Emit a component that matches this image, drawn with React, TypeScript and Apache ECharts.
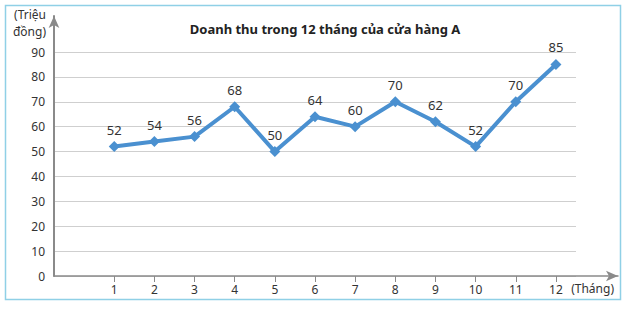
import React, { useEffect, useRef } from "react";
import * as echarts from "echarts";

const months = ["", "1", "2", "3", "4", "5", "6", "7", "8", "9", "10", "11", "12"];
const revenue = [null, 52, 54, 56, 68, 50, 64, 60, 70, 62, 52, 70, 85];
const yTicks = { min: 0, max: 90, interval: 10 };
const title = "Doanh thu trong 12 tháng của cửa hàng A";
const yName = "(Triệu\nđồng)";
const xName = "(Tháng)";

const FONT = "'Noto Sans', sans-serif";
const AXIS_COLOR = "#8a8a8a";
const LINE_COLOR = "#4a90d0";

export default function App() {
  const ref = useRef<HTMLDivElement>(null);
  useEffect(() => {
    const chart = echarts.init(ref.current!, null, { renderer: "svg" });
    chart.setOption({
      animation: false,
      backgroundColor: "#ffffff",
      textStyle: { fontFamily: FONT },
      title: {
        text: title,
        left: 320,
        top: 17,
        textAlign: "center",
        textStyle: { fontSize: 13, fontWeight: "bold", color: "#222", fontFamily: FONT },
      },
      grid: [
        { left: 54, right: 54, top: 52, bottom: 33 },
        { left: 54, right: 12, top: 16, bottom: 33 },
      ],
      xAxis: [
        {
          type: "category",
          gridIndex: 0,
          data: months,
          boundaryGap: true,
          axisLine: { show: false },
          axisTick: {
            show: true,
            alignWithLabel: true,
            interval: (i: number) => i > 0,
            length: 6,
            inside: false,
            lineStyle: { color: AXIS_COLOR, width: 1 },
          },
          axisLabel: { color: "#333", fontSize: 12, margin: 7, fontFamily: FONT, interval: 0 },
          splitLine: { show: false },
        },
        {
          type: "value",
          gridIndex: 1,
          min: 0,
          max: 1,
          axisLine: {
            show: true,
            onZero: false,
            symbol: ["none", "arrow"],
            symbolSize: [8, 12],
            lineStyle: { color: AXIS_COLOR, width: 1.5 },
          },
          axisTick: { show: false },
          axisLabel: { show: false },
          splitLine: { show: false },
          name: xName,
          nameLocation: "end",
          nameGap: 0,
          nameTextStyle: {
            color: "#333",
            fontSize: 12,
            fontFamily: FONT,
            align: "right",
            verticalAlign: "top",
            padding: [6, 4, 0, 0],
          },
        },
      ],
      yAxis: [
        {
          type: "value",
          gridIndex: 0,
          min: yTicks.min,
          max: yTicks.max,
          interval: yTicks.interval,
          axisLine: { show: false },
          axisTick: { show: false },
          axisLabel: { color: "#333", fontSize: 12, margin: 9, fontFamily: FONT },
          splitLine: { show: true, lineStyle: { color: "#cfcfcf", width: 1 } },
        },
        {
          type: "value",
          gridIndex: 1,
          min: 0,
          max: 1,
          axisLine: {
            show: true,
            onZero: false,
            symbol: ["none", "arrow"],
            symbolSize: [8, 12],
            lineStyle: { color: AXIS_COLOR, width: 2 },
          },
          axisTick: { show: false },
          axisLabel: { show: false },
          splitLine: { show: false },
          name: yName,
          nameLocation: "end",
          nameGap: -24,
          nameTextStyle: {
            color: "#333",
            fontSize: 12,
            fontFamily: FONT,
            align: "right",
            verticalAlign: "bottom",
            lineHeight: 17,
            padding: [0, 8, 0, 0],
          },
        },
      ],
      series: [
        {
          type: "line",
          xAxisIndex: 0,
          yAxisIndex: 0,
          data: revenue,
          symbol: "diamond",
          symbolSize: 11,
          showSymbol: true,
          lineStyle: { color: LINE_COLOR, width: 4 },
          itemStyle: { color: LINE_COLOR },
          label: {
            show: true,
            position: "top",
            distance: 5,
            color: "#333",
            fontSize: 13,
            fontFamily: FONT,
          },
          z: 5,
        },
      ],
      graphic: [
        {
          type: "rect",
          shape: { x: 5.5, y: 5.5, width: 615, height: 294 },
          style: { fill: "none", stroke: "#8fd0e6", lineWidth: 1.5 },
          silent: true,
          z: -1,
        },
      ],
    });
    return () => chart.dispose();
  }, []);
  return (
    <div
      ref={ref}
      style={{ position: "fixed", left: 0, top: 0, width: 630, height: 309 }}
    />
  );
}
